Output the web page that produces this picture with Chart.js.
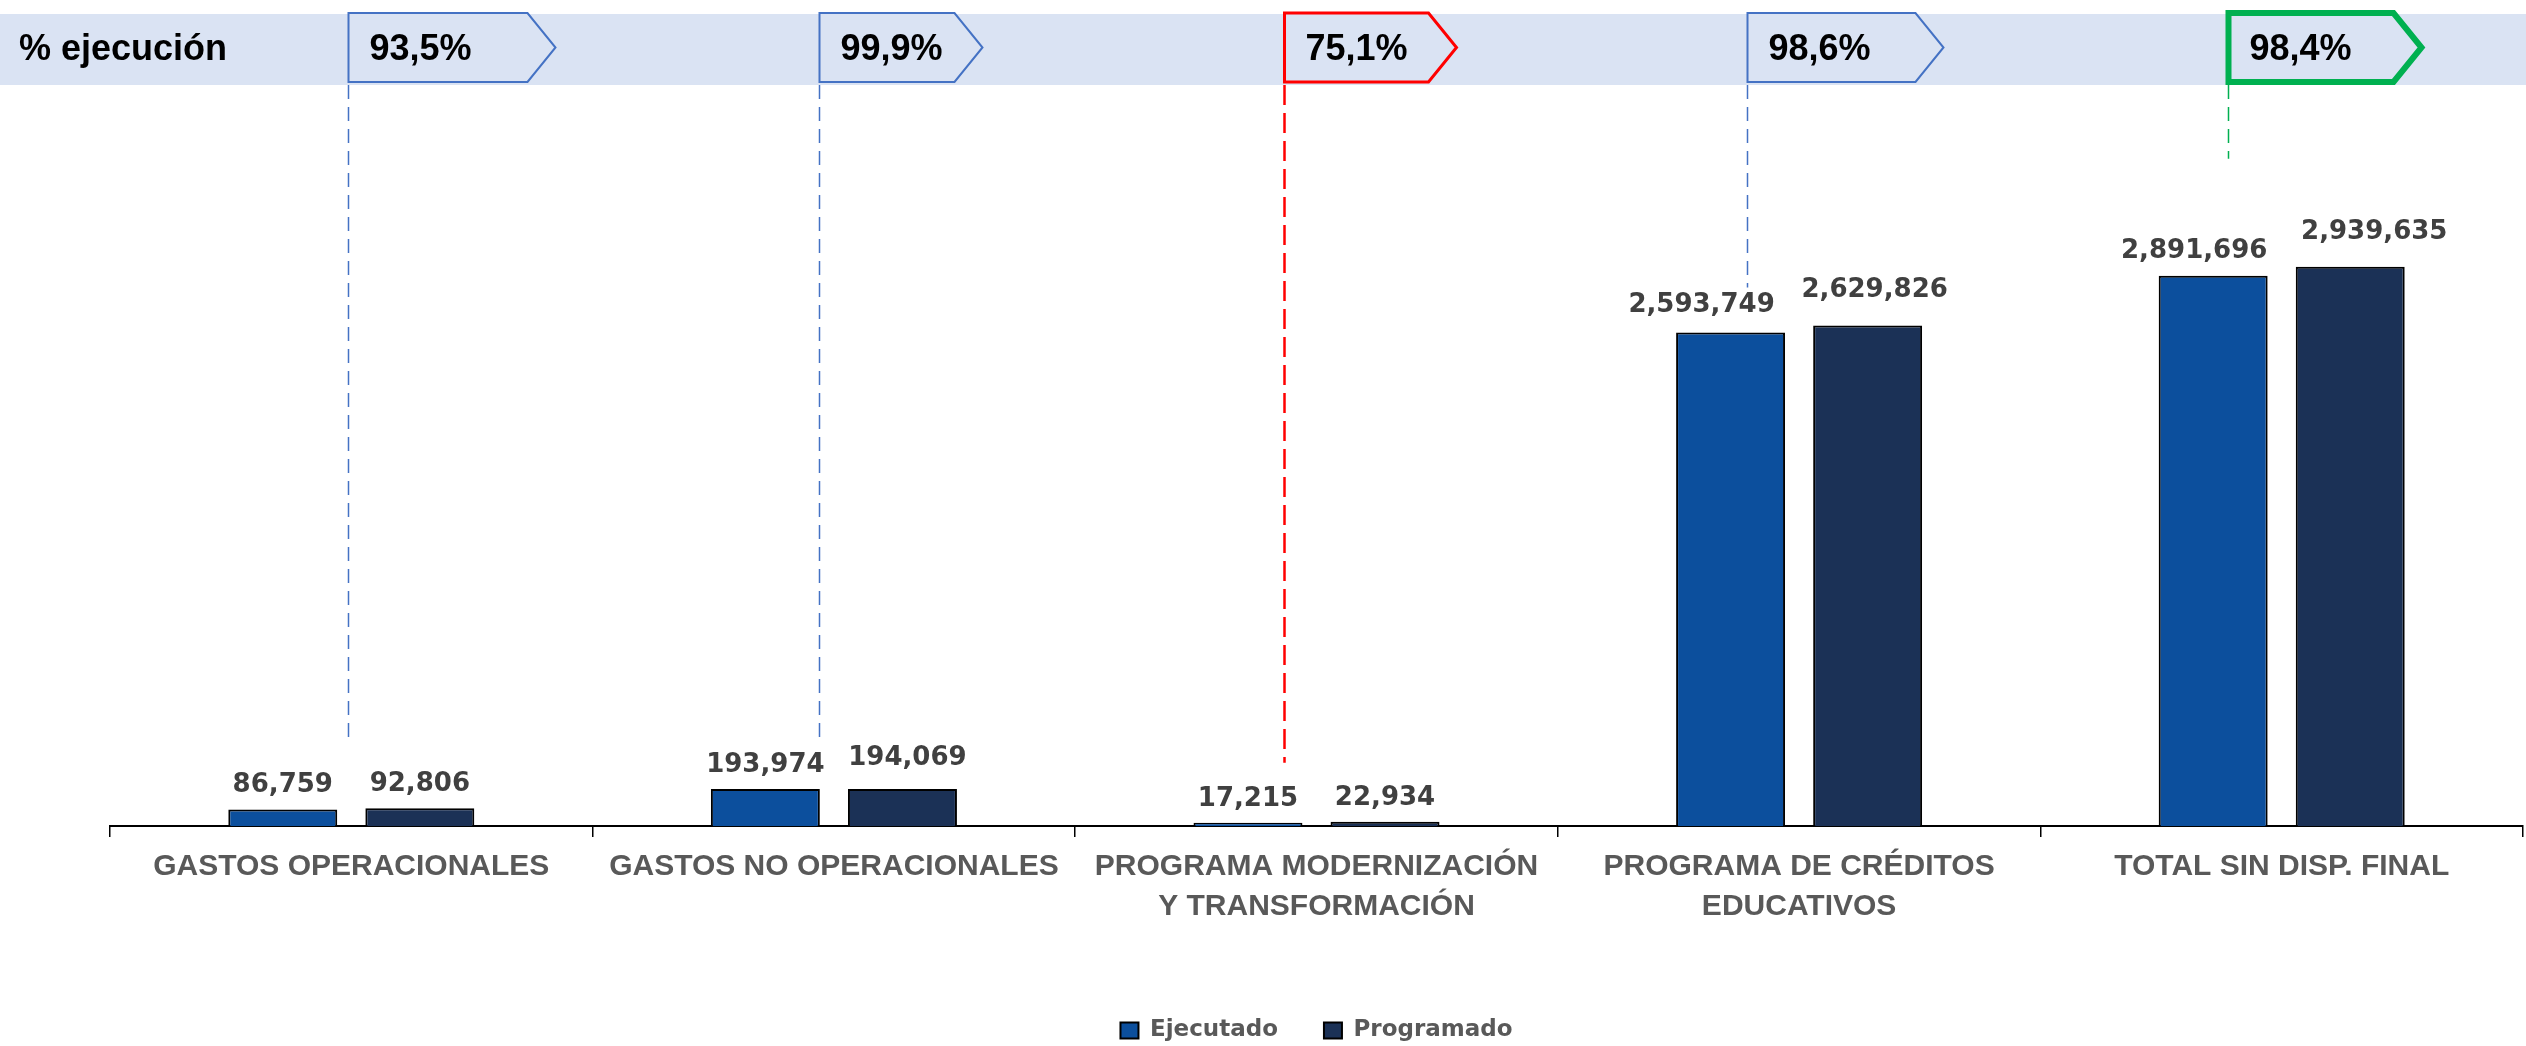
<!DOCTYPE html>
<html>
<head>
<meta charset="utf-8">
<script src="https://cdn.jsdelivr.net/npm/chart.js@4.4.1/dist/chart.umd.min.js"></script>
<style>
html,body{margin:0;padding:0;background:#ffffff;}
#wrap{width:2526px;height:1046px;}
</style>
</head>
<body>
<div id="wrap"><canvas id="c" width="2526" height="1046"></canvas></div>
<script>
// ---------- DATA ----------
const categories = [
  ["GASTOS OPERACIONALES"],
  ["GASTOS NO OPERACIONALES"],
  ["PROGRAMA MODERNIZACIÓN", "Y TRANSFORMACIÓN"],
  ["PROGRAMA DE CRÉDITOS", "EDUCATIVOS"],
  ["TOTAL SIN DISP. FINAL"]
];
const ejecutado  = [86759, 193974, 17215, 2593749, 2891696];
const programado = [92806, 194069, 22934, 2629826, 2939635];
const pctEjecucion = [93.5, 99.9, 75.1, 98.6, 98.4];
const seriesNames = ["Ejecutado", "Programado"];
const bandTitle = "% ejecución";

// ---------- LAYOUT / STYLE ----------
const COLORS = { ejecutado: "#0C4F9D", programado: "#1B3156", band: "#DAE3F3", label: "#404040", axisText: "#595959" };
const BAND = { top: 14, bottom: 85 };
const BOX = { top: 13, bottom: 82, tip: 28, textPad: 21 };
const boxDx = [-3, -15, -33, -52, -54];
const boxW  = [179, 135, 144, 168, 165];
const boxStroke = ["#4472C4", "#4472C4", "#FF0000", "#4472C4", "#00B050"];
const boxLineW  = [2, 2, 3, 2, 6];
const leaderW   = [1.5, 1.5, 2.5, 1.5, 1.5];
const leaderDash = [[14, 8], [14, 8], [20, 8], [14, 8], [14, 8]];
const leaderGap = [66, 46, 60, 45, 117];
const labelOff = [
  { dx: [0, 0, 0, -29, -19], dy: [0, 0, 0, 3, 1] },
  { dx: [0, 5, 0, 7, 24],    dy: [0, 7, 0, 12, 11] }
];
const LABEL_GAP = 17;

const fmtNum = v => v.toLocaleString("en-US");
const fmtPct = v => v.toFixed(1).replace(".", ",") + "%";

const annotPlugin = {
  id: "annot",
  afterDatasetsDraw(chart) {
    const ctx = chart.ctx;
    ctx.save();
    ctx.font = 'bold 26px "DejaVu Sans"';
    ctx.fillStyle = COLORS.label;
    ctx.textAlign = "center";
    ctx.textBaseline = "alphabetic";
    [0, 1].forEach(d => {
      const meta = chart.getDatasetMeta(d);
      const vals = chart.data.datasets[d].data;
      meta.data.forEach((bar, i) => {
        ctx.fillText(fmtNum(vals[i]), bar.x + labelOff[d].dx[i], bar.y - LABEL_GAP - labelOff[d].dy[i]);
      });
    });
    ctx.restore();
  },
  afterDraw(chart) {
    const ctx = chart.ctx, xs = chart.scales.x;
    const meta0 = chart.getDatasetMeta(0);
    ctx.save();
    // band
    ctx.fillStyle = COLORS.band;
    ctx.fillRect(0, BAND.top, chart.width, BAND.bottom - BAND.top);
    // title
    ctx.fillStyle = "#000";
    ctx.font = 'bold 36px "Liberation Sans"';
    ctx.textAlign = "left";
    ctx.textBaseline = "middle";
    ctx.fillText(bandTitle, 19, 50);
    pctEjecucion.forEach((p, i) => {
      const L = Math.round(xs.getPixelForValue(i) + boxDx[i]) + 0.5;
      const R = L + boxW[i];
      const mid = (BOX.top + BOX.bottom) / 2;
      // leader line
      const endY = meta0.data[i].y - leaderGap[i];
      ctx.beginPath();
      ctx.setLineDash(leaderDash[i]);
      ctx.strokeStyle = boxStroke[i];
      ctx.lineWidth = leaderW[i];
      ctx.moveTo(L, BAND.bottom);
      ctx.lineTo(L, endY);
      ctx.stroke();
      ctx.setLineDash([]);
      // box
      ctx.beginPath();
      ctx.moveTo(L, BOX.top);
      ctx.lineTo(R, BOX.top);
      ctx.lineTo(R + BOX.tip, mid);
      ctx.lineTo(R, BOX.bottom);
      ctx.lineTo(L, BOX.bottom);
      ctx.closePath();
      ctx.fillStyle = COLORS.band;
      ctx.fill();
      ctx.lineJoin = "miter";
      ctx.lineWidth = boxLineW[i];
      ctx.strokeStyle = boxStroke[i];
      ctx.stroke();
      ctx.fillStyle = "#000";
      ctx.font = 'bold 36px "Liberation Sans"';
      ctx.fillText(fmtPct(p), L + BOX.textPad, 50);
    });
    ctx.restore();
  }
};

new Chart(document.getElementById("c"), {
  type: "bar",
  data: {
    labels: categories,
    datasets: [
      { label: seriesNames[0], data: ejecutado, backgroundColor: COLORS.ejecutado, borderColor: "#000", borderWidth: 2 },
      { label: seriesNames[1], data: programado, backgroundColor: COLORS.programado, borderColor: "#000", borderWidth: 2 }
    ]
  },
  options: {
    responsive: false,
    animation: false,
    devicePixelRatio: 1,
    categoryPercentage: 0.568,
    barPercentage: 0.795,
    layout: { padding: { left: 110, right: 3, top: 160, bottom: -6 } },
    plugins: {
      tooltip: { enabled: false },
      legend: {
        position: "bottom",
        labels: {
          boxWidth: 18, boxHeight: 16, padding: 46,
          color: COLORS.axisText,
          font: { family: '"DejaVu Sans"', size: 23, weight: "bold" }
        }
      }
    },
    scales: {
      y: { display: false, min: 0, max: 3500000 },
      x: {
        afterFit(s) { s.height = 147; },
        grid: { drawOnChartArea: false, drawTicks: true, tickLength: 11, color: "#000", lineWidth: 1.5 },
        border: { display: true, color: "#000", width: 2 },
        ticks: {
          color: COLORS.axisText, padding: 10, maxRotation: 0, autoSkip: false,
          font: { family: '"Liberation Sans"', size: 30, weight: "bold", lineHeight: 1.333 }
        }
      }
    }
  },
  plugins: [annotPlugin]
});
</script>
</body>
</html>
